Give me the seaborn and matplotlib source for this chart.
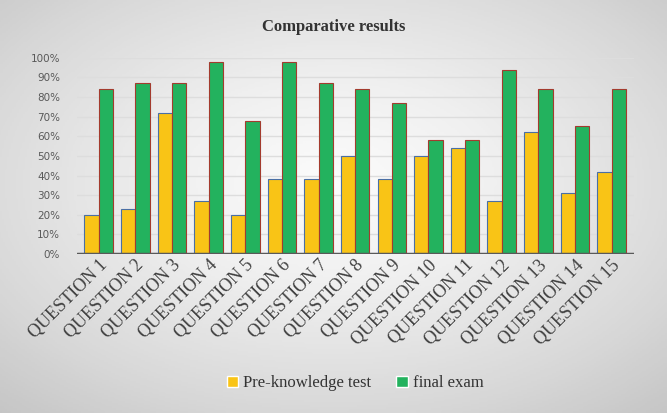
import numpy as np
import pandas as pd
import seaborn as sns
import matplotlib.pyplot as plt
from matplotlib.ticker import PercentFormatter

# values (percent)
questions = [f"QUESTION {i}" for i in range(1, 16)]
pre_knowledge = [20, 23, 72, 27, 20, 38, 38, 50, 38, 50, 54, 27, 62, 31, 42]
final_exam = [84, 87, 87, 98, 68, 98, 87, 84, 77, 58, 58, 94, 84, 65, 84]
series = ["Pre-knowledge test", "final exam"]

df = pd.DataFrame({
    "question": questions * 2,
    "score": pre_knowledge + final_exam,
    "test": [series[0]] * len(questions) + [series[1]] * len(questions),
})

sns.set_theme(style="white")
plt.rcParams["font.family"] = ["Liberation Serif", "DejaVu Serif"]

fig = plt.figure(figsize=(6.67, 4.13), dpi=100)

# light gray radial background like the office chart
bg = fig.add_axes([0, 0, 1, 1], zorder=-10)
yy, xx = np.mgrid[-1:1:200j, -1:1:320j]
r = np.sqrt((xx * 0.9) ** 2 + (yy * 0.9 + 0.1) ** 2)
bg.imshow(r, cmap="Greys", vmin=-0.1, vmax=4.2, aspect="auto", extent=[0, 1, 0, 1])
bg.axis("off")

ax = fig.add_axes([0.115, 0.385, 0.835, 0.475])
ax.set_facecolor("none")

palette = {series[0]: "#F9C416", series[1]: "#23B25E"}
sns.barplot(data=df, x="question", y="score", hue="test", palette=palette,
            width=0.78, saturation=1, ax=ax, legend=True)

edges = {series[0]: "#4A6FA5", series[1]: "#A33B2E"}
for container, name in zip(ax.containers, series):
    for bar in container:
        bar.set_edgecolor(edges[name])
        bar.set_linewidth(0.8)

ax.set_ylim(0, 100)
ax.set_xlim(-0.6, 14.6)
ax.set_yticks(range(0, 101, 10))
ax.yaxis.set_major_formatter(PercentFormatter(decimals=0))
ax.yaxis.grid(True, color="#DDDDDD", linewidth=1)
ax.set_axisbelow(True)
for s in ax.spines.values():
    s.set_visible(False)
ax.axhline(0, color="#595959", linewidth=2.5, zorder=5)

for lab in ax.get_yticklabels():
    lab.set_fontfamily("DejaVu Sans")
    lab.set_fontsize(7.5)
    lab.set_color("#595959")
ax.tick_params(axis="y", length=0, pad=12)
ax.tick_params(axis="x", length=0, pad=2)
ax.set_xticks(range(len(questions)))
ax.set_xticklabels(questions, rotation=45, ha="right", rotation_mode="anchor",
                   fontsize=13, color="#404040")
ax.set_xlabel("")
ax.set_ylabel("")

fig.text(0.5, 0.935, "Comparative results", ha="center", va="center",
         fontsize=12, fontweight="bold", color="#333333")

ax.legend(loc="center", bbox_to_anchor=(0.5, -0.66), ncol=2, frameon=False,
          fontsize=12, handlelength=0.7, handleheight=0.7, columnspacing=1.5,
          handletextpad=0.3, labelcolor="#333333")

fig.savefig("out.png", dpi=100)
